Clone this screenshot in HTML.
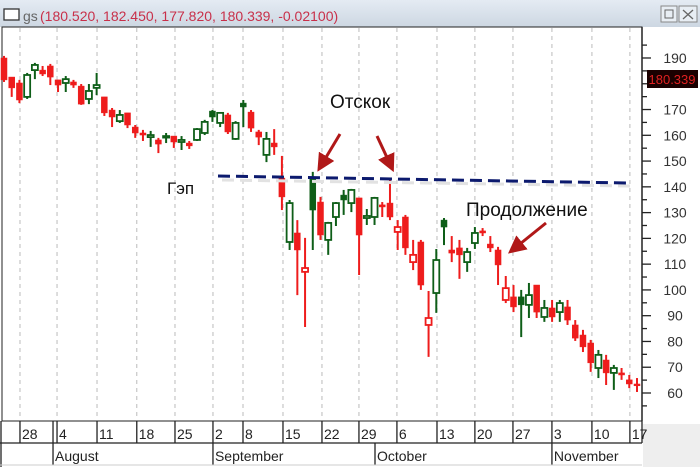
<!DOCTYPE html>
<html><head><meta charset="utf-8">
<style>
html,body{margin:0;padding:0;background:#fff;}
svg{display:block;font-family:"Liberation Sans","DejaVu Sans",sans-serif;}
</style></head>
<body>
<svg id="chart" width="700" height="467" viewBox="0 0 700 467" xmlns="http://www.w3.org/2000/svg">
<defs>
<linearGradient id="tb" x1="0" y1="0" x2="0" y2="1"><stop offset="0" stop-color="#e4ebf3"/><stop offset="1" stop-color="#cdd7e2"/></linearGradient>
<marker id="ah" markerWidth="6" markerHeight="6" refX="3" refY="3" orient="auto" markerUnits="strokeWidth"><path d="M0,0 L6,3 L0,6 z" fill="#b01818"/></marker>
</defs>
<rect x="0" y="0" width="700" height="27" fill="url(#tb)"/>
<rect x="4" y="9" width="15" height="11" fill="#fff" stroke="#333" stroke-width="1.3"/>
<text x="23" y="21" font-size="14" fill="#666">gs</text>
<text x="40" y="21" font-size="14" fill="#c8304a">(180.520, 182.450, 177.820, 180.339, -0.02100)</text>
<g><rect x="661" y="6" width="16" height="16" fill="#e8eef4" stroke="#888"/><rect x="665" y="10" width="8" height="8" fill="none" stroke="#666"/></g>
<g><rect x="679" y="6" width="18" height="16" fill="#e8eef4" stroke="#888"/><path d="M683,10 L693,19 M693,10 L683,19" stroke="#666" stroke-width="1.3"/></g>
<rect x="2" y="27" width="640" height="394" fill="#fff" stroke="#222" stroke-width="1"/>
<rect x="643" y="424" width="57" height="43" fill="#eeeeee"/>
<g id="grid"></g>
<g id="candles"></g>
<g id="yaxis"></g>
<g id="xaxis"></g>
<rect x="647" y="70" width="51" height="18" fill="#1a0000"/>
<text x="672" y="84" font-size="13" fill="#e02020" text-anchor="middle">180.339</text>
<line x1="222" y1="180" x2="630" y2="186" stroke="#e2e2e2" stroke-width="3" stroke-dasharray="12,6"/>
<line x1="218" y1="176" x2="628" y2="183" stroke="#0c1a6e" stroke-width="3" stroke-dasharray="12,6"/>
<text x="330" y="108" font-size="19" fill="#111">Отскок</text>
<text x="167" y="194" font-size="17" fill="#111">Гэп</text>
<text x="466" y="216" font-size="19" fill="#111">Продолжение</text>
<line x1="340" y1="134" x2="322" y2="164" stroke="#b01818" stroke-width="3" marker-end="url(#ah)"/>
<line x1="377" y1="136" x2="390" y2="164" stroke="#b01818" stroke-width="3" marker-end="url(#ah)"/>
<line x1="546" y1="223" x2="515" y2="248" stroke="#b01818" stroke-width="3" marker-end="url(#ah)"/>
</svg>
<script>
const opens=[190.0,182.6,180.3,174.9,185.3,185.3,186.9,181.5,180.3,180.7,179.1,174.1,178.4,174.9,169.8,165.5,168.7,163.2,160.9,159.3,158.2,159.3,159.7,157.4,157.0,158.2,160.9,169.4,164.8,167.9,158.6,172.5,169.0,161.3,152.4,157.0,143.4,118.6,122.1,107.0,143.4,134.1,119.4,128.3,136.8,133.7,135.7,127.9,128.3,133.0,133.7,122.5,128.3,110.8,118.6,86.4,98.8,127.1,115.5,116.3,110.8,118.2,122.9,117.8,115.5,96.1,97.3,97.3,94.2,101.9,89.5,93.0,91.4,93.4,86.4,82.5,79.4,69.7,72.8,67.8,67.8,65.1,63.5];
const highs=[190.8,182.6,181.5,184.2,188.1,186.9,187.7,181.5,183.0,181.5,179.9,179.9,184.2,174.9,170.6,169.8,168.7,164.0,162.1,161.7,159.0,160.9,159.7,159.7,157.8,162.8,166.0,169.8,168.7,168.7,165.5,173.7,169.8,162.1,161.3,162.4,152.0,134.9,127.1,120.2,145.8,136.1,126.4,134.1,138.8,139.2,135.7,131.4,136.1,134.1,143.4,127.1,129.1,119.4,119.4,99.6,115.9,127.9,120.9,119.4,116.3,124.4,124.0,120.9,116.7,105.4,101.9,100.0,102.7,101.9,96.1,96.1,96.1,96.1,88.3,84.5,80.6,76.7,74.8,70.9,69.7,67.0,65.8];
const lows=[180.7,174.9,172.5,174.1,181.8,183.0,179.5,176.8,176.8,178.4,171.8,172.1,175.6,167.5,163.2,164.8,162.8,159.0,157.8,155.5,153.1,157.0,155.1,154.3,154.7,157.8,160.1,165.2,163.2,160.5,158.2,163.2,161.3,156.2,149.6,152.4,131.0,115.5,98.0,85.6,115.5,119.4,113.6,124.8,129.1,130.2,105.8,125.2,125.2,128.3,127.1,115.5,113.6,107.7,100.0,74.0,91.1,117.4,110.8,104.3,107.0,115.9,120.9,114.7,101.9,94.9,91.4,81.7,89.1,89.1,87.6,87.6,87.6,86.4,80.2,75.9,68.2,65.8,63.1,61.2,65.1,61.9,60.4];
const closes=[181.5,178.4,173.7,183.4,187.3,183.8,182.6,179.5,181.8,179.5,172.1,177.2,179.5,168.7,167.1,167.9,164.0,160.9,160.1,160.1,156.6,159.7,157.4,158.2,155.9,162.4,165.2,167.1,168.7,161.3,164.8,171.0,162.8,159.3,158.6,155.5,136.1,133.7,115.5,108.5,131.0,121.3,126.0,133.7,134.9,138.8,121.3,128.7,135.7,132.2,128.3,124.4,116.3,113.6,101.9,89.1,111.6,124.4,114.3,113.6,114.7,122.1,122.1,116.3,109.7,100.7,93.4,94.2,98.0,91.4,93.0,89.5,94.9,88.3,81.3,77.9,71.7,74.8,67.8,69.7,67.0,63.5,62.8];
const dirs="RRRGGRRRGRRGGRRGRRRGRGRGRGGGGRGGRRGRRGRRGRGGGGRGGRRRRRRRGGRRGGRRRRRGGRGRGRRRRGRGRRR".split("");
const yTicks=[60,70,80,90,100,110,120,130,140,150,160,170,180,190];
const dayLabels=["28","4","11","18","25","2","8","15","22","29","6","13","20","27","3","10","17"];
const dayPos=[2.07,6.87,12.05,17.2,22.15,27.07,30.96,36.14,41.19,45.98,50.9,56.09,61.0,65.93,70.98,76.16,81.08];
const monthLabels=["August","September","October","November"];
const monthPos=[6.35,27.07,48.06,70.98];

const NS="http://www.w3.org/2000/svg";
const X0=4, STEP=(637-4)/82;
function xScale(i){return X0+i*STEP;}
function yScale(v){return 393-(v-60)*2.577;}
function mk(tag,attrs,parent){const e=document.createElementNS(NS,tag);for(const k in attrs)e.setAttribute(k,attrs[k]);parent.appendChild(e);return e;}

const grid=document.getElementById('grid');
dayPos.forEach((p,k)=>{
  const x=xScale(p);
  const l=mk('line',{x1:x,y1:28,x2:x,y2:420,stroke:'#bbb','stroke-dasharray':'4,4'},grid);
  
  
});

const cg=document.getElementById('candles');
opens.forEach((o,i)=>{
  const c=closes[i],h=highs[i],lo=lows[i];
  const col=dirs[i]==='G'?'#0e5e18':'#ee1c1c';
  const x=xScale(i);
  const g=mk('g',{},cg);
  
  
  mk('line',{x1:x,y1:yScale(h),x2:x,y2:yScale(lo),stroke:col,'stroke-width':2},g);
  const top=yScale(Math.max(o,c)),bot=yScale(Math.min(o,c));
  const hollow=c>o;
  mk('rect',{x:x-3,y:top,width:6,height:Math.max(1.5,bot-top),fill:hollow?'#fff':col,stroke:col,'stroke-width':hollow?1.8:0.5},g);
});

const ya=document.getElementById('yaxis');
const ax=mk('line',{x1:642,y1:27,x2:642,y2:421,stroke:'#222','stroke-width':1.5},ya);


for(let v=55;v<=195;v+=5){
  const major=v%10===0;
  mk('line',{x1:642,y1:yScale(v),x2:major?651:647,y2:yScale(v),stroke:'#222','stroke-width':1.3},ya);
}
yTicks.forEach(v=>{
  if(v===180) return;
  const t=mk('text',{x:675,y:yScale(v)+5,'font-size':14,fill:'#333','text-anchor':'middle'},ya);
  t.textContent=String(v);
  
  
});

const xa=document.getElementById('xaxis');
mk('line',{x1:0,y1:443,x2:642,y2:443,stroke:'#222','stroke-width':1.3},xa);
mk('line',{x1:642,y1:421,x2:642,y2:443,stroke:'#222','stroke-width':1.3},xa);
mk('line',{x1:1,y1:421,x2:1,y2:467,stroke:'#222','stroke-width':1.3},xa);
mk('line',{x1:xScale(monthPos[0]),y1:421,x2:xScale(monthPos[0]),y2:443,stroke:'#222','stroke-width':1.3},xa);
dayPos.forEach((p,k)=>{
  const x=xScale(p);
  mk('line',{x1:x,y1:421,x2:x,y2:443,stroke:'#222','stroke-width':1.3},xa);
  const t=mk('text',{x:x+2,y:439,'font-size':14,fill:'#222'},xa);
  t.textContent=dayLabels[k];
  
  
});
monthPos.forEach((p,k)=>{
  const x=xScale(p);
  mk('line',{x1:x,y1:443,x2:x,y2:465,stroke:'#222','stroke-width':1.3},xa);
  const t=mk('text',{x:x+2,y:461,'font-size':14,fill:'#222'},xa);
  t.textContent=monthLabels[k];
  
  
});
mk('line',{x1:0,y1:465,x2:642,y2:465,stroke:'#ccc'},xa);
</script>
</body></html>
